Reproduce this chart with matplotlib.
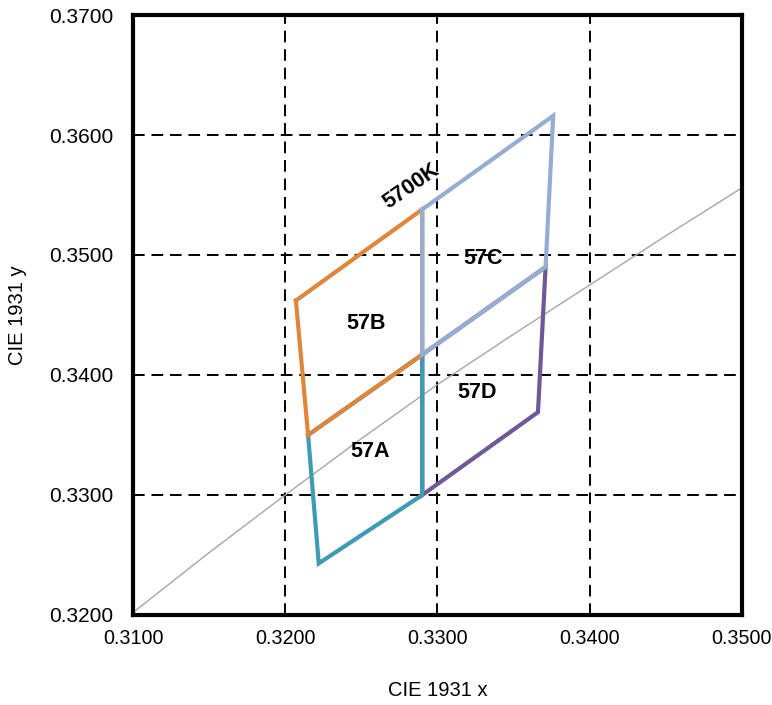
import matplotlib
matplotlib.use("Agg")
import matplotlib.pyplot as plt
from matplotlib.ticker import FormatStrFormatter

plt.rcParams['font.family'] = ['Liberation Sans', 'DejaVu Sans']

# planckian locus
locus_x = [0.3100, 0.3150, 0.3200, 0.3250, 0.3300, 0.3350, 0.3400, 0.3450, 0.3500]
locus_y = [0.3202, 0.3252, 0.3300, 0.3347, 0.3392, 0.3434, 0.3475, 0.3516, 0.3556]

# quadrangle corners
a_x = [0.3215, 0.3290, 0.3290, 0.3222]
a_y = [0.3350, 0.3417, 0.3300, 0.3243]
b_x = [0.3207, 0.3290, 0.3290, 0.3215]
b_y = [0.3462, 0.3538, 0.3417, 0.3350]
c_x = [0.3290, 0.3376, 0.3371, 0.3290]
c_y = [0.3538, 0.3616, 0.3490, 0.3417]
d_x = [0.3290, 0.3371, 0.3366, 0.3290]
d_y = [0.3417, 0.3490, 0.3369, 0.3300]

names = ["57D", "57A", "57B", "57C"]
label_pos = {"57A": (0.3256, 0.3336), "57B": (0.3253, 0.3443),
             "57C": (0.3330, 0.3497), "57D": (0.3326, 0.3385)}
colors = {"57A": "#3f9ab3", "57B": "#e0863c", "57C": "#95add3", "57D": "#6f5799"}
quads = {"57A": (a_x, a_y), "57B": (b_x, b_y), "57C": (c_x, c_y), "57D": (d_x, d_y)}

fig = plt.figure(figsize=(7.72, 7.05), dpi=100)
ax = fig.add_axes([0.1723, 0.1277, 0.7888, 0.851])

ax.plot(locus_x, locus_y, color="#a6a6a6", lw=1.0, zorder=2)

for n in names:
    xs, ys = quads[n]
    ax.plot(xs + xs[:1], ys + ys[:1], color=colors[n], lw=3.0,
            solid_joinstyle="miter", zorder=3)
for n in label_pos:
    ax.text(label_pos[n][0], label_pos[n][1], n, fontsize=15.5, fontweight="bold",
            ha="center", va="center", zorder=4)

ax.text(0.3283, 0.3557, "5700K", fontsize=15.5, fontweight="bold", rotation=35,
        ha="center", va="center", zorder=4)

ax.set_xlim(0.31, 0.35)
ax.set_ylim(0.32, 0.37)
ax.set_xticks([0.31, 0.32, 0.33, 0.34, 0.35])
ax.set_yticks([0.32, 0.33, 0.34, 0.35, 0.36, 0.37])
ax.xaxis.set_major_formatter(FormatStrFormatter("%.4f"))
ax.yaxis.set_major_formatter(FormatStrFormatter("%.4f"))
ax.tick_params(length=0)
ax.tick_params(axis="y", pad=14, labelsize=15)
ax.tick_params(axis="x", pad=10, labelsize=14.2)
ax.grid(True, color="black", linestyle=(0, (6, 3.5)), lw=1.4, zorder=1)
for s in ax.spines.values():
    s.set_linewidth(3)
ax.set_xlabel("CIE 1931 x", fontsize=14.5, labelpad=24)
ax.set_ylabel("CIE 1931 y", fontsize=14.5, labelpad=16)

fig.savefig("out.png", dpi=100)
